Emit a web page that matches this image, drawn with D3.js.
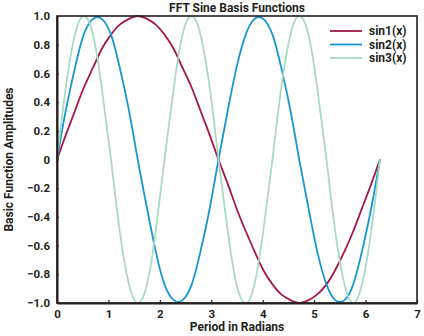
<!DOCTYPE html>
<html>
<head>
<meta charset="utf-8">
<script src="https://cdn.jsdelivr.net/npm/d3@7"></script>
<style>
  html, body { margin: 0; padding: 0; background: #fff; }
  svg text { font-family: Roboto, "Liberation Sans", sans-serif; font-weight: bold; fill: #231f20; }
</style>
</head>
<body>
<svg id="chart" width="424" height="336"></svg>
<script>
// Sample positions in radians (10 degree steps over one full period)
const radians = [0, 0.17, 0.35, 0.52, 0.70, 0.87, 1.05, 1.22, 1.40, 1.57, 1.75, 1.92, 2.09, 2.27, 2.44, 2.62, 2.79, 2.97,
  3.14, 3.32, 3.49, 3.67, 3.84, 4.01, 4.19, 4.36, 4.54, 4.71, 4.89, 5.06, 5.24, 5.41, 5.59, 5.76, 5.93, 6.11, 6.28];

const sin1 = [0, 0.17, 0.34, 0.50, 0.64, 0.77, 0.87, 0.94, 0.98, 1.00, 0.98, 0.94, 0.87, 0.77, 0.64, 0.50, 0.34, 0.17,
  0, -0.17, -0.34, -0.50, -0.64, -0.77, -0.87, -0.94, -0.98, -1.00, -0.98, -0.94, -0.87, -0.77, -0.64, -0.50, -0.34, -0.17, 0];

const sin2 = [0, 0.34, 0.64, 0.87, 0.98, 0.98, 0.87, 0.64, 0.34, 0, -0.34, -0.64, -0.87, -0.98, -0.98, -0.87, -0.64, -0.34,
  0, 0.34, 0.64, 0.87, 0.98, 0.98, 0.87, 0.64, 0.34, 0, -0.34, -0.64, -0.87, -0.98, -0.98, -0.87, -0.64, -0.34, 0];

const sin3 = [0, 0.50, 0.87, 1.00, 0.87, 0.50, 0, -0.50, -0.87, -1.00, -0.87, -0.50,
  0, 0.50, 0.87, 1.00, 0.87, 0.50, 0, -0.50, -0.87, -1.00, -0.87, -0.50,
  0, 0.50, 0.87, 1.00, 0.87, 0.50, 0, -0.50, -0.87, -1.00, -0.87, -0.50, 0];

const seriesNames = ["sin1(x)", "sin2(x)", "sin3(x)"];
const seriesColors = ["#a3174b", "#1896d2", "#a8d8c6"];
const xTicks = [0, 1, 2, 3, 4, 5, 6, 7];
const yTicks = [-1.0, -0.8, -0.6, -0.4, -0.2, 0, 0.2, 0.4, 0.6, 0.8, 1.0];

const svg = d3.select("#chart");
const margin = { left: 57, right: 7, top: 16, bottom: 33 };
const W = 424, H = 336;
const x = d3.scaleLinear().domain([0, 7]).range([margin.left, W - margin.right]);
const y = d3.scaleLinear().domain([-1, 1]).range([H - margin.bottom, margin.top]);

// Series lines
const series = [sin1, sin2, sin3];
const line = d3.line()
  .x((d, i) => x(radians[i]))
  .y(d => y(d))
  .curve(d3.curveNatural);

svg.append("defs").append("clipPath").attr("id", "plotClip")
  .append("rect")
  .attr("x", x(0)).attr("y", y(1) - 1)
  .attr("width", x(7) - x(0)).attr("height", y(-1) - y(1) + 2);

const plot = svg.append("g").attr("clip-path", "url(#plotClip)");
series.forEach((vals, k) => {
  plot.append("path")
    .datum(vals)
    .attr("d", line)
    .attr("fill", "none")
    .attr("stroke", seriesColors[k])
    .attr("stroke-width", 1.8);
});

// Frame around the plot area
svg.append("rect")
  .attr("x", x(0)).attr("y", y(1))
  .attr("width", x(7) - x(0)).attr("height", y(-1) - y(1))
  .attr("fill", "none").attr("stroke", "#231f20").attr("stroke-width", 1.6);

// Axes
const xAxis = d3.axisBottom(x).tickValues(xTicks).tickFormat(d3.format("d")).tickSizeInner(-3).tickSizeOuter(0).tickPadding(6);
const gx = svg.append("g").attr("transform", `translate(0,${y(-1)})`).call(xAxis);
gx.select(".domain").attr("stroke", "#231f20").attr("stroke-width", 2);
gx.selectAll(".tick line").attr("stroke", "#231f20").attr("stroke-width", 1.2);
gx.selectAll(".tick text").style("font-size", "11.5px").attr("dy", "0.75em");

const yFmt = d => d === 0 ? "0" : d3.format(".1f")(d).replace("-", "\u2212");
const yAxis = d3.axisLeft(y).tickValues(yTicks).tickFormat(yFmt).tickSizeInner(-2).tickSizeOuter(0).tickPadding(7);
const gy = svg.append("g").attr("transform", `translate(${x(0)},0)`).call(yAxis);
gy.select(".domain").attr("stroke", "#231f20").attr("stroke-width", 2);
gy.selectAll(".tick line").attr("stroke", "#231f20").attr("stroke-width", 1);
gy.selectAll(".tick text").style("font-size", "11.5px");

// Title and axis labels
svg.append("text")
  .attr("x", (x(0) + x(7)) / 2).attr("y", 12)
  .attr("text-anchor", "middle").style("font-size", "12px")
  .text("FFT Sine Basis Functions");

svg.append("text")
  .attr("x", (x(0) + x(7)) / 2).attr("y", 331)
  .attr("text-anchor", "middle").style("font-size", "12px")
  .text("Period in Radians");

svg.append("text")
  .attr("transform", `translate(13,${(y(1) + y(-1)) / 2}) rotate(-90)`)
  .attr("text-anchor", "middle").style("font-size", "12px")
  .text("Basic Function Amplitudes");

// Legend
const legend = svg.append("g");
seriesNames.forEach((name, k) => {
  const ly = 31 + k * 13.5;
  legend.append("line")
    .attr("x1", 330).attr("x2", 362).attr("y1", ly).attr("y2", ly)
    .attr("stroke", seriesColors[k]).attr("stroke-width", 1.8);
  legend.append("text")
    .attr("x", 369).attr("y", ly).attr("dy", "0.35em")
    .style("font-size", "12px")
    .text(name);
});
</script>
</body>
</html>
